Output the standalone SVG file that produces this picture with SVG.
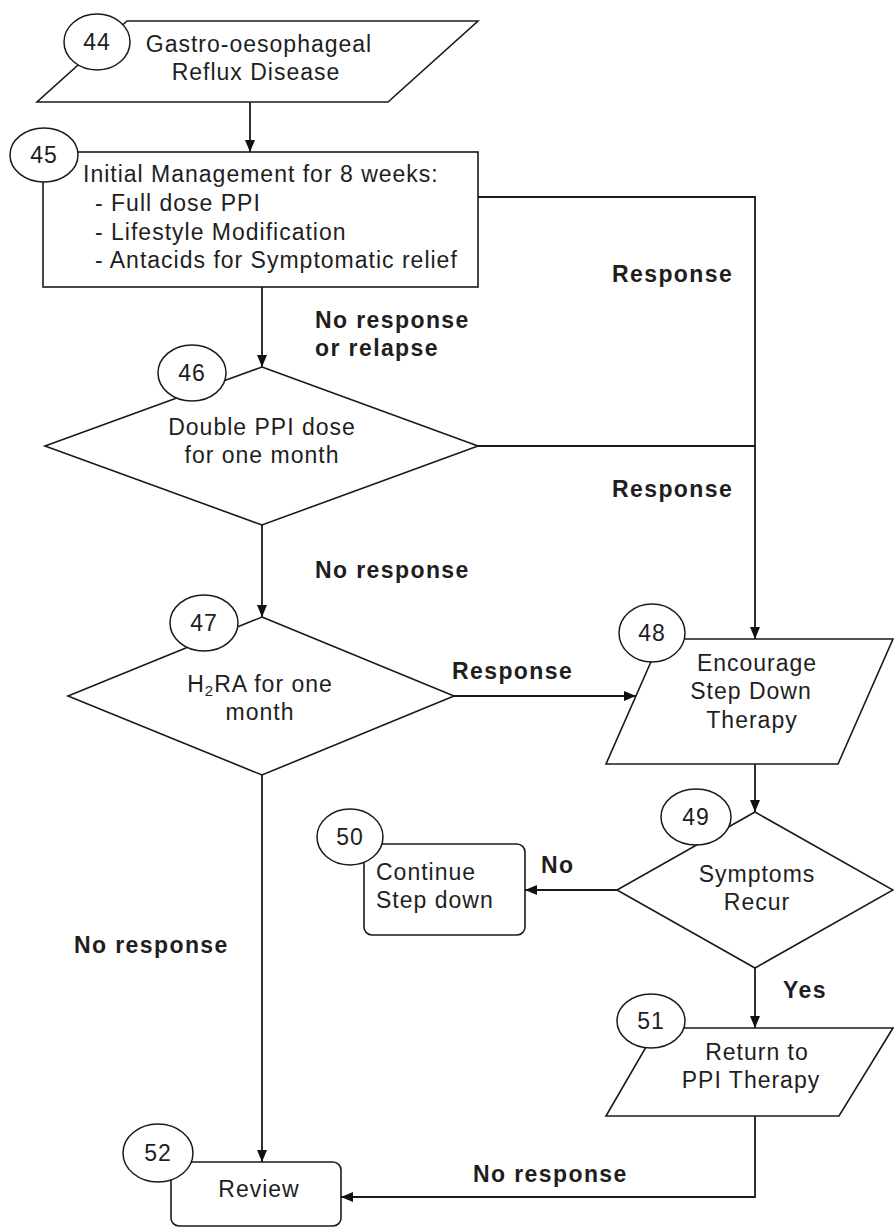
<svg xmlns="http://www.w3.org/2000/svg" width="894" height="1228" viewBox="0 0 894 1228">
  <defs>
    <marker id="arrow" markerWidth="12" markerHeight="12" viewBox="0 0 12 12" refX="12" refY="6" orient="auto" markerUnits="userSpaceOnUse">
      <path d="M0,1 L12,6 L0,11 Z" fill="#111"/>
    </marker>
    <style>
      .shape { fill: #fff; stroke: #1a1a1a; stroke-width: 1.6; }
      .badge { fill: #fff; stroke: #1a1a1a; stroke-width: 1.5; }
      .edge { fill: none; stroke: #1a1a1a; stroke-width: 1.8; }
      .txt { font-family: "Liberation Sans", Arial, sans-serif; font-size: 23px; fill: #1e1e1e; letter-spacing: 1px; }
      .num { font-family: "Liberation Sans", Arial, sans-serif; font-size: 23px; fill: #1e1e1e; letter-spacing: 1px; text-anchor: middle; }
      .mid { text-anchor: middle; }
      .lbl { font-family: "Liberation Sans", Arial, sans-serif; font-size: 23px; font-weight: bold; fill: #1e1e1e; letter-spacing: 1.4px; }
    </style>
  </defs>
  <rect width="894" height="1228" fill="#fff"/>

  <!-- connectors -->
  <g id="connectors">
    <path class="edge" d="M250,102 V152" marker-end="url(#arrow)"/>
    <path class="edge" d="M262,287 V367" marker-end="url(#arrow)"/>
    <path class="edge" d="M478,197 H755 V639" marker-end="url(#arrow)"/>
    <path class="edge" d="M478,446 H755"/>
    <path class="edge" d="M262,525 V617" marker-end="url(#arrow)"/>
    <path class="edge" d="M454,696 H636" marker-end="url(#arrow)"/>
    <path class="edge" d="M755,764 V812" marker-end="url(#arrow)"/>
    <path class="edge" d="M617,890 H525" marker-end="url(#arrow)"/>
    <path class="edge" d="M755,968 V1028" marker-end="url(#arrow)"/>
    <path class="edge" d="M262,775 V1162" marker-end="url(#arrow)"/>
    <path class="edge" d="M755,1116 V1197 H341" marker-end="url(#arrow)"/>

    <text class="lbl" x="612" y="282">Response</text>
    <text class="lbl" x="315" y="328">No response</text>
    <text class="lbl" x="315" y="356">or relapse</text>
    <text class="lbl" x="612" y="497">Response</text>
    <text class="lbl" x="315" y="578">No response</text>
    <text class="lbl" x="452" y="679">Response</text>
    <text class="lbl" x="541" y="873">No</text>
    <text class="lbl" x="783" y="998">Yes</text>
    <text class="lbl" x="74" y="953">No response</text>
    <text class="lbl" x="473" y="1182">No response</text>
  </g>

  <!-- 44: entry -->
  <g id="node44">
    <polygon class="shape" points="127,21 478,21 388,102 37,102"/>
    <ellipse class="badge" cx="97" cy="42" rx="33" ry="28"/>
    <text class="num" x="97" y="50">44</text>
    <text class="txt mid" x="259" y="52">Gastro-oesophageal</text>
    <text class="txt mid" x="256" y="80">Reflux Disease</text>
  </g>

  <!-- 45: initial management -->
  <g id="node45">
    <rect class="shape" x="43" y="152" width="435" height="135"/>
    <ellipse class="badge" cx="44" cy="155" rx="34" ry="27"/>
    <text class="num" x="44" y="163">45</text>
    <text class="txt" x="83" y="182">Initial Management for 8 weeks:</text>
    <text class="txt" x="95" y="211">- Full dose PPI</text>
    <text class="txt" x="95" y="240">- Lifestyle Modification</text>
    <text class="txt" x="95" y="268">- Antacids for Symptomatic relief</text>
  </g>

  <!-- 46: double PPI -->
  <g id="node46">
    <polygon class="shape" points="262,367 478,446 262,525 45,446"/>
    <ellipse class="badge" cx="192" cy="373" rx="34" ry="28"/>
    <text class="num" x="192" y="381">46</text>
    <text class="txt mid" x="262" y="435">Double PPI dose</text>
    <text class="txt mid" x="262" y="463">for one month</text>
  </g>

  <!-- 47: H2RA -->
  <g id="node47">
    <polygon class="shape" points="262,617 454,696 262,775 68,696"/>
    <ellipse class="badge" cx="204" cy="623" rx="34" ry="28"/>
    <text class="num" x="204" y="631">47</text>
    <text class="txt mid" x="260" y="692">H<tspan font-size="15" dy="4">2</tspan><tspan dy="-4">RA for one</tspan></text>
    <text class="txt mid" x="260" y="720">month</text>
  </g>

  <!-- 48: step down -->
  <g id="node48">
    <polygon class="shape" points="661,639 893,639 838,764 606,764"/>
    <ellipse class="badge" cx="652" cy="633" rx="33" ry="29"/>
    <text class="num" x="652" y="641">48</text>
    <text class="txt mid" x="757" y="671">Encourage</text>
    <text class="txt mid" x="751" y="699">Step Down</text>
    <text class="txt mid" x="752" y="728">Therapy</text>
  </g>

  <!-- 49: symptoms recur -->
  <g id="node49">
    <polygon class="shape" points="755,812 893,890 755,968 617,890"/>
    <ellipse class="badge" cx="696" cy="817" rx="35" ry="28"/>
    <text class="num" x="696" y="825">49</text>
    <text class="txt mid" x="757" y="882">Symptoms</text>
    <text class="txt mid" x="757" y="910">Recur</text>
  </g>

  <!-- 50: continue step down -->
  <g id="node50">
    <rect class="shape" x="364" y="844" width="161" height="91" rx="8"/>
    <ellipse class="badge" cx="350" cy="837" rx="33" ry="28"/>
    <text class="num" x="350" y="845">50</text>
    <text class="txt" x="376" y="880">Continue</text>
    <text class="txt" x="376" y="908">Step down</text>
  </g>

  <!-- 51: return to PPI -->
  <g id="node51">
    <polygon class="shape" points="657,1028 893,1028 839,1116 606,1116"/>
    <ellipse class="badge" cx="651" cy="1021" rx="34" ry="27"/>
    <text class="num" x="651" y="1029">51</text>
    <text class="txt mid" x="757" y="1060">Return to</text>
    <text class="txt mid" x="751" y="1088">PPI Therapy</text>
  </g>

  <!-- 52: review -->
  <g id="node52">
    <rect class="shape" x="171" y="1162" width="170" height="64" rx="8"/>
    <ellipse class="badge" cx="158" cy="1153" rx="35" ry="29"/>
    <text class="num" x="158" y="1161">52</text>
    <text class="txt mid" x="259" y="1197">Review</text>
  </g>
</svg>
